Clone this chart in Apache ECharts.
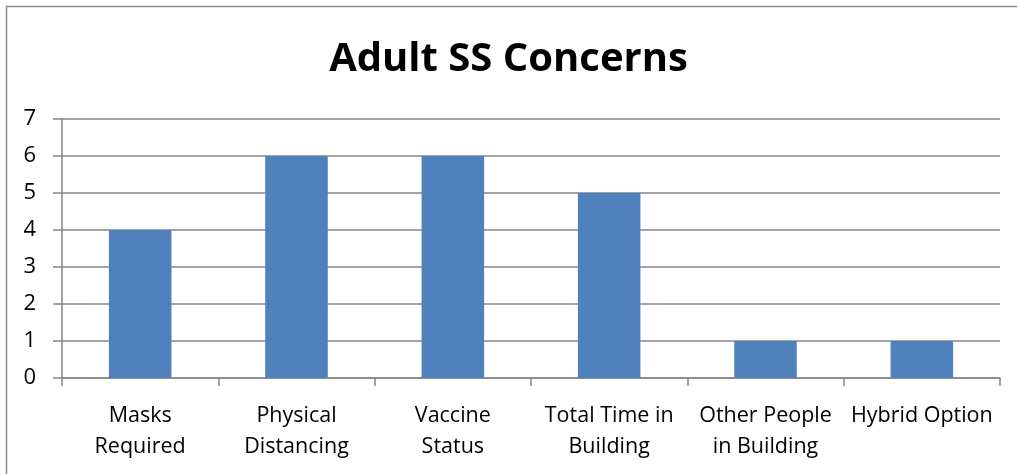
<!DOCTYPE html>
<html>
<head>
<meta charset="utf-8">
<script src="https://cdn.jsdelivr.net/npm/echarts@6/dist/echarts.min.js"></script>
<style>
  html, body { margin: 0; padding: 0; background: #fff; }
  #chart { width: 1017px; height: 474px; }
</style>
</head>
<body>
<div id="chart"></div>
<script>
// chart data
var categories = ['Masks\nRequired', 'Physical\nDistancing', 'Vaccine\nStatus', 'Total Time in\nBuilding', 'Other People\nin Building', 'Hybrid Option'];
var concerns = [4, 6, 6, 5, 1, 1];
var yTicks = [0, 1, 2, 3, 4, 5, 6, 7];

var myChart = echarts.init(document.getElementById('chart'));
var option = {
  animation: false,
  textStyle: { fontFamily: 'Open Sans' },
  title: {
    text: 'Adult SS Concerns',
    left: 'center',
    top: 35,
    textStyle: { fontFamily: 'Open Sans', fontWeight: 'bold', fontSize: 40, color: '#000' }
  },
  graphic: [{
    type: 'rect',
    shape: { x: 6.5, y: 6.5, width: 1100, height: 600 },
    style: { fill: 'none', stroke: '#8c8c8c', lineWidth: 1.5 },
    silent: true
  }],
  grid: { left: 62, right: 17, top: 119, bottom: 96 },
  xAxis: {
    type: 'category',
    data: categories,
    axisLine: { lineStyle: { color: '#868686', width: 1.5 } },
    axisTick: { show: true, length: 8, lineStyle: { color: '#868686', width: 1.5 } },
    axisLabel: { color: '#000', fontSize: 21.5, lineHeight: 31, margin: 22, interval: 0 }
  },
  yAxis: {
    type: 'value',
    min: yTicks[0],
    max: yTicks[yTicks.length - 1],
    interval: 1,
    axisLine: { show: true, lineStyle: { color: '#868686', width: 1.5 } },
    axisTick: { show: true, length: 9, lineStyle: { color: '#868686', width: 1.5 } },
    splitLine: { lineStyle: { color: '#868686', width: 1.5 } },
    axisLabel: { color: '#000', fontSize: 22, margin: 26 }
  },
  series: [{
    type: 'bar',
    data: concerns,
    barWidth: '40%',
    itemStyle: { color: '#4F81BD' }
  }]
};
myChart.setOption(option);
</script>
</body>
</html>
